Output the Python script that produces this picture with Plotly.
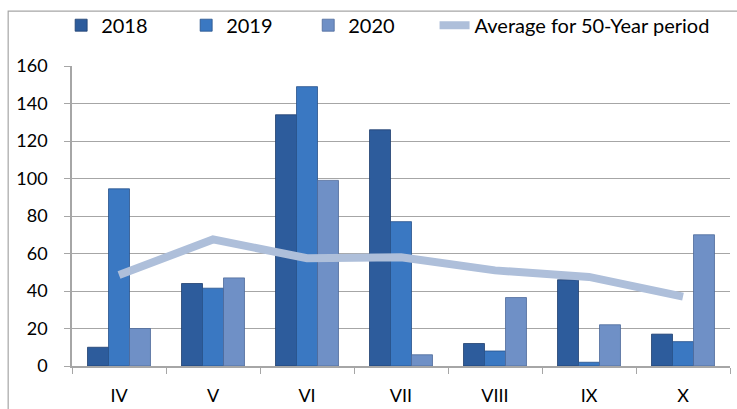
import plotly.graph_objects as go

months = ["IV", "V", "VI", "VII", "VIII", "IX", "X"]
y2018 = [10, 44, 134, 126, 12, 46, 17]
y2019 = [94.5, 41.5, 149, 77, 8, 2, 13]
y2020 = [20, 47, 99, 6, 36.5, 22, 70]
avg50 = [48.5, 67.5, 57.5, 58, 51, 47.5, 37]
y_ticks = [0, 20, 40, 60, 80, 100, 120, 140, 160]

FONT = "Lato, Open Sans, sans-serif"

fig = go.Figure()
fig.add_trace(go.Bar(name="2018", x=months, y=y2018, legend="legend",
                     marker=dict(color="#2D5C9C", line=dict(color="#1F3F6E", width=0.8))))
fig.add_trace(go.Bar(name="2019", x=months, y=y2019, legend="legend2",
                     marker=dict(color="#3A78C2", line=dict(color="#27528A", width=0.8))))
fig.add_trace(go.Bar(name="2020", x=months, y=y2020, legend="legend3",
                     marker=dict(color="#6F90C6", line=dict(color="#4E6A9A", width=0.8))))
fig.add_trace(go.Scatter(name="Average for 50-Year period", x=months, y=avg50, legend="legend4",
                         mode="lines", line=dict(color="#AEBFDA", width=8)))

def leg(x):
    return dict(orientation="h", x=x, xanchor="left", y=1.136, yanchor="middle",
                font=dict(family=FONT, size=20, color="#000000"), itemwidth=30,
                bgcolor="rgba(0,0,0,0)")

fig.update_layout(
    width=737, height=409,
    margin=dict(l=72, r=7, t=66, b=43, autoexpand=False),
    paper_bgcolor="white", plot_bgcolor="white",
    barmode="group", bargap=0.33, bargroupgap=0,
    font=dict(family=FONT, size=18, color="#000000"),
    showlegend=True,
    legend=leg(-0.0165),
    legend2=leg(0.1735),
    legend3=leg(0.359),
    legend4=leg(0.551),
    xaxis=dict(showgrid=False, showline=True, linecolor="#A6A6A6", linewidth=1.5,
               ticks="outside", tickson="boundaries", ticklen=6, tickcolor="#A6A6A6",
               tickfont=dict(family=FONT, size=18), automargin=False,
               ticklabelstandoff=13),
    yaxis=dict(range=[0, 160], tickvals=y_ticks, showgrid=True, gridcolor="#A6A6A6",
               gridwidth=1.2, showline=True, linecolor="#A6A6A6", linewidth=1.5,
               ticks="outside", ticklen=6, tickcolor="#A6A6A6", zeroline=False,
               tickfont=dict(family=FONT, size=18), automargin=False,
               ticklabelstandoff=13),
    shapes=[dict(type="rect", xref="paper", yref="paper",
                 x0=-0.097, x1=1.05, y0=-0.3, y1=1.183,
                 line=dict(color="#A6A6A6", width=1.2), fillcolor="rgba(0,0,0,0)",
                 layer="below")],
)

fig.write_html("out.html", config={"displayModeBar": False},
               post_script="document.body.style.margin='0';document.body.style.overflow='hidden';")
